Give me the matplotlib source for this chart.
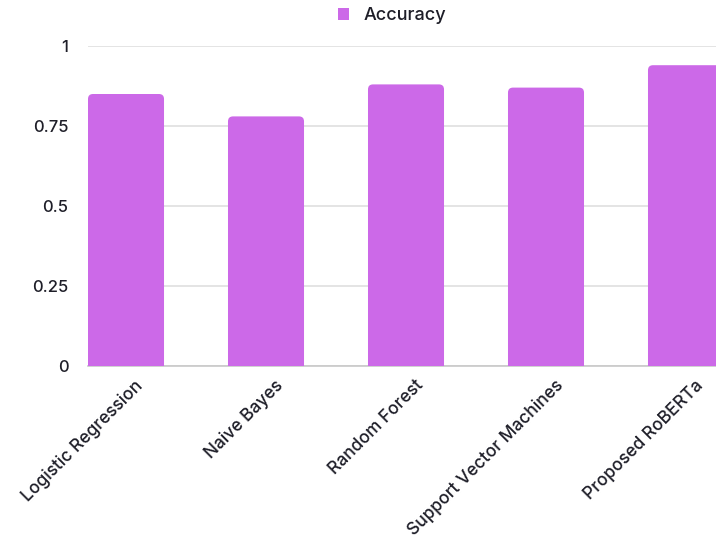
import matplotlib
matplotlib.use('Agg')
import matplotlib.pyplot as plt
from matplotlib.patches import FancyBboxPatch

plt.rcParams['font.family'] = ['Inter', 'DejaVu Sans']
plt.rcParams['font.weight'] = 'medium'

models = ['Logistic Regression', 'Naive Bayes', 'Random Forest',
          'Support Vector Machines', 'Proposed RoBERTa']
accuracy = [0.85, 0.78, 0.88, 0.87, 0.94]
yticks = [0, 0.25, 0.5, 0.75, 1]
ytick_labels = ['0', '0.25', '0.5', '0.75', '1']

bar_color = '#cc69e8'
text_color = '#1e1e28'
grid_color = '#dcdcdc'

fig = plt.figure(figsize=(7.16, 5.42), dpi=100)
ax = fig.add_axes([88 / 716, 176 / 542, 1 - 88 / 716, 320 / 542])

x = list(range(len(models)))
width = 0.543
bars = ax.bar(x, accuracy, width=width, color=bar_color, alpha=0)

# swap the plain bars for ones with rounded top corners
# (bottom corners sit below zero and get clipped away)
px_x = 1 / 140
px_y = 1 / 320
radius = 5 * px_x
for rect, val in zip(bars, accuracy):
    rb = FancyBboxPatch((rect.get_x(), -0.05), rect.get_width(), val + 0.05,
                        boxstyle='round,pad=0,rounding_size=%f' % radius,
                        mutation_aspect=px_y / px_x,
                        facecolor=bar_color, edgecolor='none', zorder=3)
    ax.add_patch(rb)

ax.set_xlim(-width / 2, (716 - 126) / 140)
ax.set_ylim(0, 1)

ax.set_yticks(yticks)
ax.set_yticklabels(ytick_labels)
ax.yaxis.grid(True, color=grid_color, linewidth=1.1)
ax.set_axisbelow(True)
ax.tick_params(axis='y', length=0, pad=14, labelsize=12, labelcolor=text_color)

ax.set_xticks([i + 0.06 for i in x])
ax.set_xticklabels(models, rotation=45, ha='right', rotation_mode='anchor')
ax.tick_params(axis='x', length=0, pad=8, labelsize=12.5, labelcolor=text_color)

for side in ['top', 'right', 'left']:
    ax.spines[side].set_visible(False)
ax.spines['bottom'].set_color('#c8c8c8')
ax.spines['bottom'].set_linewidth(1.2)

legend_handle = plt.Rectangle((0, 0), 1, 1, facecolor=bar_color)
fig.legend([legend_handle], ['Accuracy'], loc='center',
           bbox_to_anchor=(392 / 716, 1 - 16 / 542), frameon=False,
           handlelength=0.6, handleheight=0.6, handletextpad=0.8,
           fontsize=13, labelcolor=text_color)

fig.savefig('out.png', dpi=100)
